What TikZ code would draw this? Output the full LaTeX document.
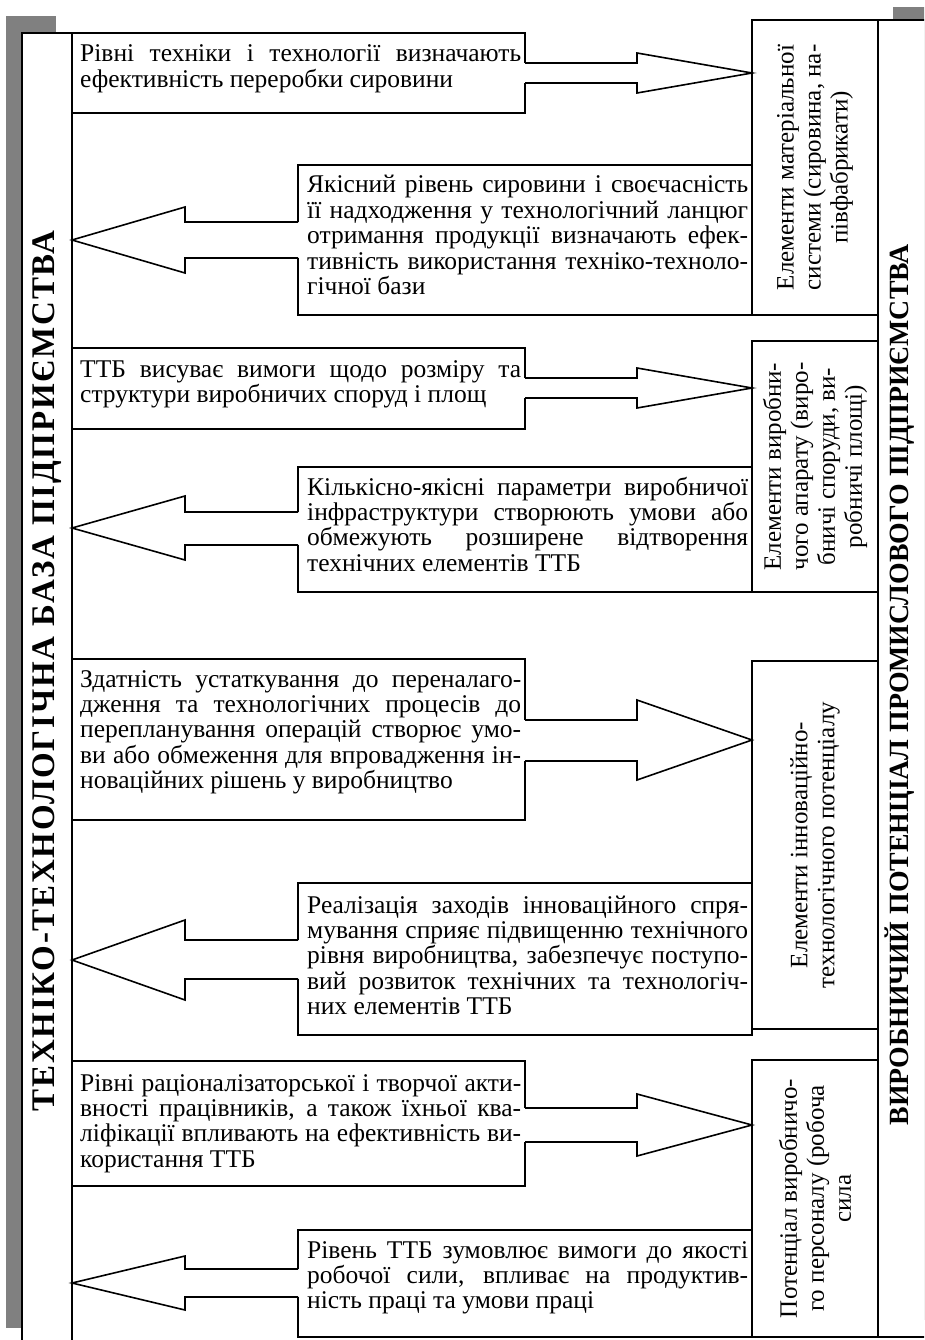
\documentclass[tikz,border=0pt]{standalone}
\usepackage{fontspec}
\setmainfont{Liberation Serif}
\newfontfamily\lefttitlefam[LetterSpace=5.3]{Liberation Serif}
\definecolor{shadowgray}{RGB}{128,128,128}
\newcommand\bodyfont{\fontsize{25.5}{25.4}\selectfont}
\newcommand\sidefont{\fontsize{25}{27}\selectfont}
\newcommand\titlefont{\fontsize{27.8}{30}\selectfont\bfseries}
\newcommand\lefttitlefont{\lefttitlefam\fontsize{33}{36}\selectfont\bfseries}
% one justified line of a paragraph
\newcommand\jline[1]{\makebox[\linewidth][s]{#1}\\}
% paragraph block whose baseline is that of its first line
\newcommand\para[1]{\parbox[t]{441pt}{\bodyfont #1}}
\tikzset{
  frame/.style={line width=1.9pt, line join=miter},
  blockarrow/.style={line width=1.6pt, line join=miter},
  bodytext/.style={anchor=base west, inner sep=0pt},
  sidetext/.style={rotate=90, align=center, inner sep=0pt, font=\sidefont},
  titletext/.style={rotate=90, inner sep=0pt, font=\titlefont},
}
\begin{document}
\begin{tikzpicture}[x=1pt,y=-1pt]
\useasboundingbox (0,0) rectangle (924,1340);
\clip (0,0) rectangle (924,1340);

% shadows of the two outer columns
\fill[shadowgray] (6,16) rectangle (56,1328);
\fill[shadowgray] (893,7) rectangle (960,1320);

% outer columns
\draw[frame, fill=white] (22,33) rectangle (72,1360);
\draw[frame, fill=white] (878,20) rectangle (960,1337);
\node[titletext, font=\lefttitlefont] (ttb) at (47,671) {ТЕХНІКО-ТЕХНОЛОГІЧНА БАЗА ПІДПРИЄМСТВА};
\node[titletext] (vp) at (900,685) {ВИРОБНИЧИЙ ПОТЕНЦІАЛ ПРОМИСЛОВОГО ПІДПРИЄМСТВА};

% element boxes of the production potential
\draw[frame] (752,20) rectangle (878,315);
\draw[frame] (752,341) rectangle (878,592);
\draw[frame] (752,661) rectangle (878,1029);
\draw[frame] (752,1060) rectangle (878,1337);
\node[sidetext] (ea) at (815,167.5) {Елементи матеріальної\\системи (сировина, на-\\півфабрикати)};
\node[sidetext] (eb) at (815,466.5) {Елементи виробни-\\чого апарату (виро-\\бничі споруди, ви-\\робничі площі)};
\node[sidetext] (ec) at (815,845) {Елементи інноваційно-\\технологічного потенціалу};
\node[sidetext] (ed) at (815,1198.5) {Потенціал виробничо-\\го персоналу (робоча\\сила};

% left-attached box with arrow to the right: top, bottom, body top, body bottom, tip y, head half
\newcommand\rbox[6]{%
  \draw[frame] (525,#3) -- (525,#1) -- (72,#1) -- (72,#2) -- (525,#2) -- (525,#4);
  \draw[blockarrow] (525,#3) -- (637,#3) -- (637,#5-#6) -- (752,#5) -- (637,#5+#6) -- (637,#4) -- (525,#4);}
% right-attached box with arrow to the left
\newcommand\lbox[6]{%
  \draw[frame] (298,#3) -- (298,#1) -- (752,#1) -- (752,#2) -- (298,#2) -- (298,#4);
  \draw[blockarrow] (298,#3) -- (185,#3) -- (185,#5-#6) -- (72,#5) -- (185,#5+#6) -- (185,#4) -- (298,#4);}

\rbox{33}{113}{63}{83}{73}{20}
\node[bodytext] (t1) at (80,62) {\para{\jline{Рівні техніки і технології визначають}ефективність переробки сировини}};

\lbox{165}{315}{222}{258}{240}{33}
\node[bodytext] (t2) at (307,193) {\para{\jline{Якісний рівень сировини і своєчасність}\jline{її надходження у технологічний ланцюг}\jline{отримання продукції визначають ефек-}\jline{тивність використання техніко-техноло-}гічної бази}};

\rbox{348}{429}{378}{398}{388}{20}
\node[bodytext] (t3) at (80,377) {\para{\jline{ТТБ висуває вимоги щодо розміру та}структури виробничих споруд і площ}};

\lbox{467}{592}{512}{545}{528}{32}
\node[bodytext] (t4) at (307,495) {\para{\jline{Кількісно-якісні параметри виробничої}\jline{інфраструктури створюють умови або}\jline{обмежують розширене відтворення}технічних елементів ТТБ}};

\rbox{659}{820}{720}{761}{740}{40}
\node[bodytext] (t5) at (80,687) {\para{\jline{Здатність устаткування до переналаго-}\jline{дження та технологічних процесів до}\jline{перепланування операцій створює умо-}\jline{ви або обмеження для впровадження ін-}новаційних рішень у виробництво}};

\lbox{883}{1035}{940}{979}{960}{40}
\node[bodytext] (t6) at (307,913) {\para{\jline{Реалізація заходів інноваційного спря-}\jline{мування сприяє підвищенню технічного}\jline{рівня виробництва, забезпечує поступо-}\jline{вий розвиток технічних та технологіч-}них елементів ТТБ}};

\rbox{1061}{1186}{1108}{1142}{1125}{31}
\node[bodytext] (t7) at (80,1091) {\para{\jline{Рівні раціоналізаторської і творчої акти-}\jline{вності працівників, а також їхньої ква-}\jline{ліфікації впливають на ефективність ви-}користання ТТБ}};

\lbox{1230}{1337}{1269}{1297}{1283}{27}
\node[bodytext] (t8) at (307,1258) {\para{\jline{Рівень ТТБ зумовлює вимоги до якості}\jline{робочої сили, впливає на продуктив-}ність праці та умови праці}};
\end{tikzpicture}
\end{document}
